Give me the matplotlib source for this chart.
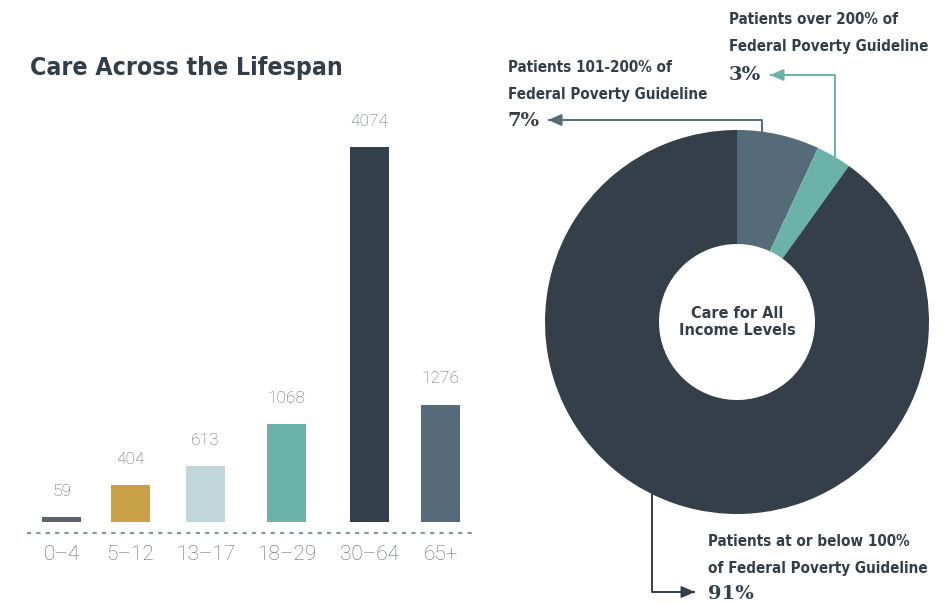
import matplotlib
matplotlib.use("Agg")
import matplotlib.pyplot as plt
from matplotlib.lines import Line2D
from matplotlib import font_manager as fm
import numpy as np

# ---------------- data ----------------
age_groups = ["0–4", "5–12", "13–17", "18–29", "30–64", "65+"]
patients = [59, 404, 613, 1068, 4074, 1276]
bar_colors = ["#5b646c", "#c9a245", "#bfd7d8", "#6bb2a8", "#333f4a", "#566b79"]

income_labels = ["Patients 101-200% of\nFederal Poverty Guideline",
                 "Patients over 200% of\nFederal Poverty Guideline",
                 "Patients at or below 100%\nof Federal Poverty Guideline"]
income_pct = [7, 3, 91]
pie_colors = ["#566b7a", "#6bb3a9", "#343f49"]

# ---------------- fonts ----------------
def find(family, stretch="normal"):
    try:
        return fm.findfont(fm.FontProperties(family=family, weight="bold", stretch=stretch),
                           fallback_to_default=False)
    except Exception:
        return None

p = find("DejaVu Sans", "condensed")
if p and "Condensed" in p:
    cond_props = dict(family=["DejaVu Sans"], stretch="condensed")
    k = 1.0
else:
    cond_props = dict(family=["Roboto", "DejaVu Sans"])
    k = 0.93

W, H = 953, 604
fig = plt.figure(figsize=(W / 100, H / 100), dpi=100)
fig.patch.set_facecolor("white")

def fx(x):
    return x / W

def fy(y):
    return 1 - y / H

DARK = "#333f48"
GRAY = "#62696f"
LIGHT = ["Roboto", "DejaVu Sans"]

# title
fig.text(fx(30), fy(68), "Care Across the Lifespan", weight="bold",
         fontsize=17.8 * k, color=DARK, ha="left", va="center", **cond_props)

# ---------------- bar chart ----------------
bar_pos = [0, 0.908, 1.895, 2.961, 4.053, 4.987]
ax = fig.add_axes([fx(28), fy(533), fx(472) - fx(28), fy(140) - fy(533)])
scale = 375 / 4074.0  # px per unit
ax.set_ylim(-11 / scale, (533 - 140) / scale - 11 / scale)
ax.set_xlim(-0.441, 5.401)
ax.bar(bar_pos, patients, width=0.513, color=bar_colors)
for x, v in zip(bar_pos, patients):
    ax.annotate(str(v), (x, v), xytext=(0, 13), textcoords="offset points",
                ha="center", va="bottom", fontsize=12.5, color=GRAY,
                family=LIGHT, weight="light")
for s in ["top", "right", "left"]:
    ax.spines[s].set_visible(False)
ax.spines["bottom"].set_linestyle((0, (1, 3.5)))
ax.spines["bottom"].set_color("#7f97a5")
ax.spines["bottom"].set_linewidth(1.5)
ax.set_yticks([])
ax.set_xticks(bar_pos)
ax.set_xticklabels(age_groups, family=LIGHT, weight="light", fontsize=15,
                   color=GRAY)
ax.tick_params(axis="x", length=0, pad=9)
ax.set_facecolor("none")

# ---------------- donut ----------------
cx, cy, R = 737, 322, 192
pax = fig.add_axes([fx(cx - R), fy(cy + R), 2 * R / W, 2 * R / H])
pax.pie(income_pct, colors=pie_colors, startangle=90, counterclock=False, radius=1,
        wedgeprops=dict(width=114 / 192, linewidth=0))
pax.set_xlim(-1, 1)
pax.set_ylim(-1, 1)
pax.set_aspect("equal")
pax.axis("off")

pax.text(0, 0, "Care for All\nIncome Levels", weight="bold",
         fontsize=11.6 * k, color=DARK, ha="center", va="center",
         linespacing=1.2, **cond_props)

def leader(angle_deg, corner_y, end_x, color):
    a = np.deg2rad(angle_deg)
    sx, sy = np.cos(a), np.sin(a)
    pax.add_line(Line2D([sx, sx, end_x], [sy, corner_y, corner_y], color=color,
                        lw=1.4, clip_on=False, solid_capstyle="butt"))
    d = 0.06 if end_x > sx else -0.06
    pax.annotate("", xy=(end_x, corner_y), xytext=(end_x - d, corner_y),
                 arrowprops=dict(arrowstyle="-|>,head_length=0.8,head_width=0.35",
                                 color=color, lw=1.4, shrinkA=0, shrinkB=0),
                 annotation_clip=False)

cum = np.cumsum([0] + income_pct)
leader(82.5, (cy - 120) / R, (548 - cx) / R, pie_colors[0])
mid3 = 90 - (cum[1] + income_pct[1] / 2) * 3.6
leader(mid3, (cy - 75) / R, (770 - cx) / R, pie_colors[1])
leader(243.8, (cy - 592) / R, (695 - cx) / R, pie_colors[2])

def label(x, y1, y2, y3, txt, pct):
    l1, l2 = txt.split("\n")
    for yy, t in [(y1, l1), (y2, l2)]:
        fig.text(fx(x), fy(yy), t, weight="bold", fontsize=10.9 * k,
                 color=DARK, ha="left", va="center", **cond_props)
    fig.text(fx(x), fy(y3), f"{pct}%", family=["DejaVu Serif"], weight="bold",
             fontsize=14, color=DARK, ha="left", va="center")

label(508, 67, 94, 121, income_labels[0], income_pct[0])
label(729, 20, 47, 75, income_labels[1], income_pct[1])
label(708, 542, 569, 594, income_labels[2], income_pct[2])

fig.savefig("out.png", dpi=100, facecolor="white")
